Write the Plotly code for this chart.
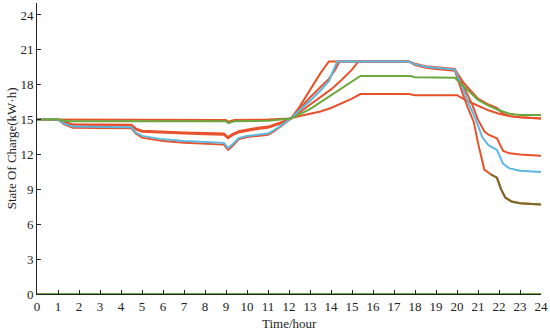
import plotly.graph_objects as go

RED = "#e8522b"
GREEN = "#6aa83e"
BLUE = "#5bb8e2"
OLIVE = "#7a6a2a"

# Series 1 (red, fastest charge, ends lowest)
r1_h = [0, 1, 1.3, 1.7, 4.5, 4.7, 5.0, 5.5, 6, 7, 8, 8.9, 9.1, 9.3, 9.6, 10, 10.5, 11, 11.3, 11.6, 12.1,
        12.5, 13.0, 13.5, 13.9, 17.7, 18.0, 18.5, 19.0, 19.5, 19.9, 20.2, 20.5, 20.8, 21.0, 21.3, 21.6,
        21.9, 22.1, 22.3, 22.6, 23.0, 24.0]
r1_v = [15, 15, 14.6, 14.3, 14.25, 13.8, 13.45, 13.3, 13.15, 13.0, 12.9, 12.85, 12.4, 12.7, 13.3, 13.5, 13.6,
        13.7, 14.0, 14.4, 15.1,
        16.1, 17.6, 19.0, 20.0, 20.0, 19.7, 19.45, 19.35, 19.25, 19.2, 17.6, 16.1, 14.8, 13.0, 10.7, 10.3,
        10.0, 9.0, 8.3, 7.95, 7.8, 7.7]

# Series 2 (blue)
b_h = [0, 1, 1.3, 1.7, 4.5, 4.7, 5.0, 5.5, 6, 7, 8, 8.9, 9.1, 9.3, 9.6, 10, 10.5, 11, 11.3, 11.6, 12.1,
       12.5, 13.0, 13.5, 13.9, 14.1, 14.3, 17.7, 18.0, 18.5, 19.0, 19.5, 19.9, 20.3, 20.6, 20.9, 21.2,
       21.5, 21.9, 22.2, 22.5, 23.0, 24.0]
b_v = [15, 15, 14.65, 14.4, 14.35, 13.9, 13.6, 13.45, 13.3, 13.15, 13.05, 13.0, 12.55, 12.85, 13.4, 13.6, 13.7,
       13.8, 14.1, 14.5, 15.1,
       15.8, 16.6, 17.5, 18.3, 19.2, 20.0, 20.0, 19.75, 19.55, 19.45, 19.35, 19.3, 17.6, 16.2, 15.0, 13.5,
       12.8, 12.4, 11.2, 10.8, 10.6, 10.5]

# Series 3 (red, ends ~11.9)
r2_h = [0, 1, 1.3, 1.7, 4.5, 4.7, 5.0, 5.5, 6, 7, 8, 8.9, 9.1, 9.3, 9.6, 10, 10.5, 11, 11.3, 11.6, 12.1,
        12.5, 13.0, 13.5, 13.9, 14.2, 14.4, 17.7, 18.0, 18.5, 19.0, 19.5, 19.9, 20.3, 20.7, 21.0, 21.3,
        21.5, 21.9, 22.2, 22.5, 23.0, 24.0]
r2_v = [15, 15, 14.75, 14.55, 14.5, 14.15, 13.95, 13.9, 13.85, 13.8, 13.75, 13.7, 13.4, 13.65, 13.9, 14.05,
        14.2, 14.3, 14.45, 14.65, 15.1,
        15.9, 16.9, 17.8, 18.5, 19.3, 20.0, 20.0, 19.8, 19.6, 19.5, 19.4, 19.35, 17.9, 16.4, 15.0, 14.0,
        13.7, 13.4, 12.3, 12.1, 12.0, 11.9]

# Series 4 (red, reaches 20 last)
r3_h = [0, 1, 1.3, 1.7, 4.5, 4.7, 5.0, 5.5, 6, 7, 8, 8.9, 9.1, 9.3, 9.6, 10, 10.5, 11, 11.3, 11.6, 12.1,
        13.0, 13.5, 14.0, 14.5, 15.0, 15.3, 17.7, 18.0, 18.5, 19.0, 19.5, 19.9, 20.3, 20.7, 21.0, 21.5,
        21.9, 22.2, 22.5, 23.0, 24.0]
r3_v = [15, 15, 14.8, 14.6, 14.55, 14.25, 14.05, 14.0, 13.95, 13.9, 13.85, 13.8, 13.5, 13.75, 14.0, 14.15,
        14.3, 14.4, 14.55, 14.75, 15.1,
        16.3, 16.9, 17.6, 18.4, 19.3, 20.0, 20.0, 19.75, 19.55, 19.45, 19.35, 19.3, 18.2, 17.4, 16.8, 16.3,
        16.0, 15.5, 15.3, 15.2, 15.1]

# Series 5 (green)
g_h = [0, 1, 1.5, 4.5, 9.0, 9.1, 9.4, 11.0, 11.6, 12.1, 13.0, 13.5, 14.0, 14.5, 15.0, 15.4, 17.8, 18.0,
       19.9, 20.3, 20.7, 21.0, 21.5, 22.0, 22.5, 23.0, 24.0]
g_v = [15, 15, 14.85, 14.85, 14.85, 14.7, 14.85, 14.9, 15.0, 15.1, 15.9, 16.5, 17.1, 17.7, 18.3, 18.75,
       18.75, 18.65, 18.6, 17.9, 17.2, 16.7, 16.2, 15.8, 15.5, 15.4, 15.4]

# Series 6 (red, lowest peak)
r4_h = [0, 1, 1.5, 9.0, 9.1, 9.4, 11.0, 12.0, 13.0, 13.5, 14.0, 14.5, 15.0, 15.4, 17.7, 18.0,
        20.0, 20.5, 21.1, 21.5, 22.0, 22.5, 23.0, 24.0]
r4_v = [15, 15, 14.97, 14.97, 14.82, 14.97, 15.0, 15.1, 15.5, 15.7, 16.0, 16.4, 16.8, 17.2, 17.2, 17.1,
        17.1, 16.6, 16.1, 15.8, 15.5, 15.3, 15.2, 15.1]

# Series 7 (green, zero)
z_h = [0, 24]
z_v = [0, 0]

x_ticks = list(range(0, 25))
y_ticks = [0, 3, 6, 9, 12, 15, 18, 21, 24]

FONT = "Liberation Serif"

fig = go.Figure()


def add(h, v, color):
    fig.add_trace(go.Scatter(x=h, y=v, mode="lines", line=dict(color=color, width=2),
                             showlegend=False, hoverinfo="skip", cliponaxis=False))


add(z_h, z_v, GREEN)
add(r4_h, r4_v, RED)
add(r3_h, r3_v, RED)
add(r2_h, r2_v, RED)
add(r1_h, r1_v, RED)
add(b_h, b_v, BLUE)
add(g_h, g_v, GREEN)
# tail of series 1 where it appears olive
k = r1_h.index(21.6)
add(r1_h[k:], r1_v[k:], OLIVE)

fig.update_layout(
    width=550, height=331,
    margin=dict(l=37, r=9, t=3, b=37),
    paper_bgcolor="white", plot_bgcolor="white",
    font=dict(family=FONT, size=13, color="#222"),
    annotations=[
        dict(text="Time/hour", x=0.5, y=-0.1, xref="paper", yref="paper",
             xanchor="center", yanchor="middle", showarrow=False,
             font=dict(family=FONT, size=13, color="#222")),
        dict(text="State Of Charge(kW·h)", x=-0.05, y=0.5, xref="paper", yref="paper",
             xanchor="center", yanchor="middle", showarrow=False, textangle=-90,
             font=dict(family=FONT, size=13, color="#222")),
    ],
)
fig.update_xaxes(
    range=[0, 24], tickvals=x_ticks, ticktext=[str(t) for t in x_ticks],
    showgrid=False, zeroline=False, showline=True, linecolor="#222", linewidth=1,
    ticks="inside", ticklen=4, tickcolor="#222", automargin=False,
    tickfont=dict(family=FONT, size=13),
)
fig.update_yaxes(
    range=[0, 25.03], tickvals=y_ticks, ticktext=[str(t) for t in y_ticks],
    showgrid=False, zeroline=False, showline=True, linecolor="#222", linewidth=1,
    ticks="inside", ticklen=4, tickcolor="#222", automargin=False,
    tickfont=dict(family=FONT, size=13),
)

fig.write_html("out.html", config={"displayModeBar": False},
               post_script="document.body.style.margin='0';")
